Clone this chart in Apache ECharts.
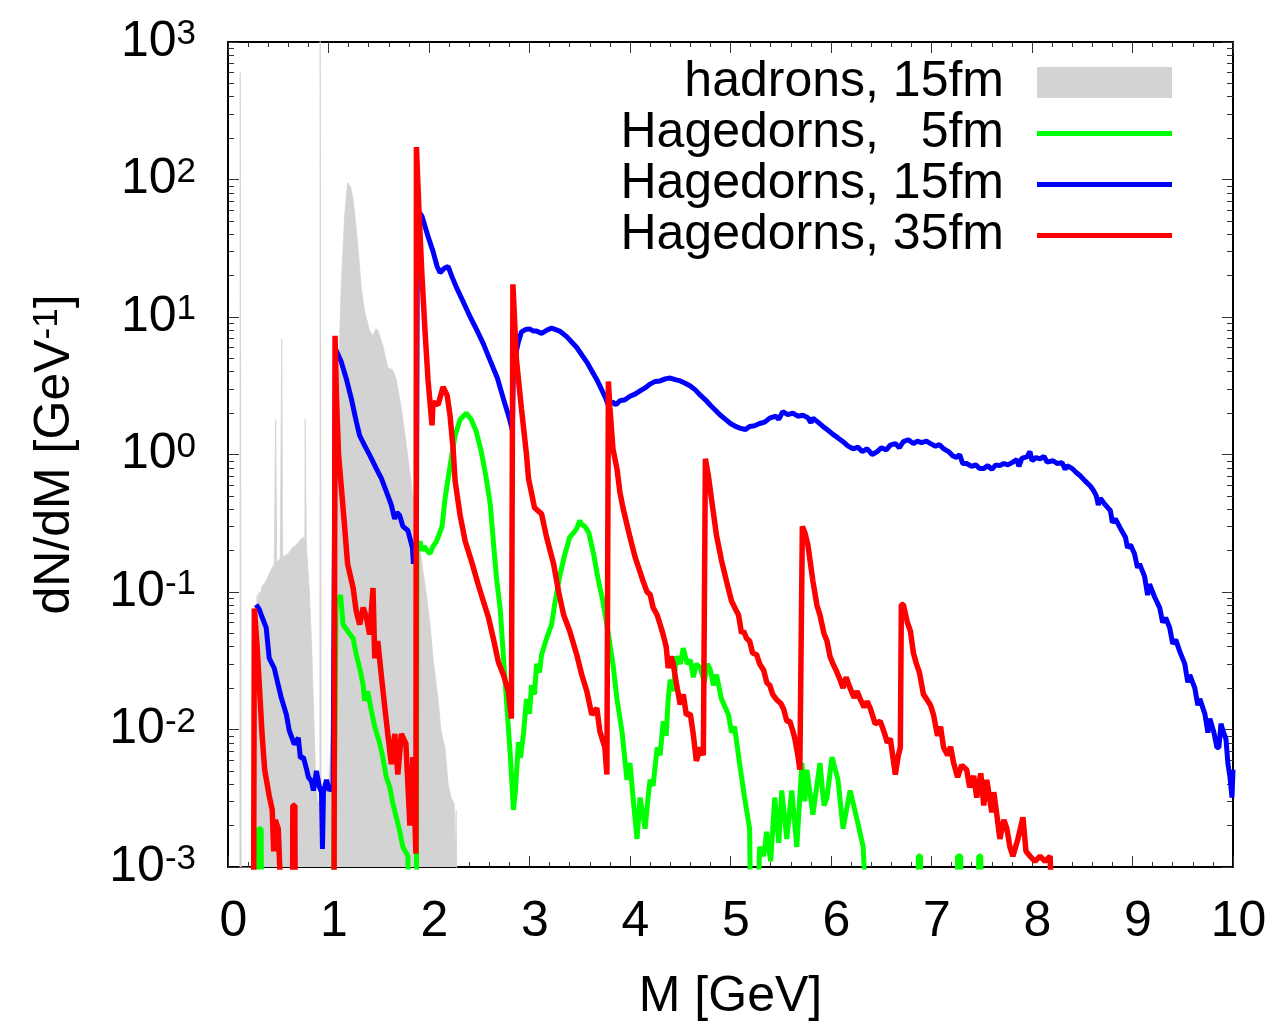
<!DOCTYPE html>
<html>
<head>
<meta charset="utf-8">
<script src="https://cdn.jsdelivr.net/npm/echarts@6/dist/echarts.min.js"></script>
<style>
html,body{margin:0;padding:0;background:#fff;}
#chart{width:1273px;height:1027px;}
</style>
</head>
<body>
<div id="chart"></div>
<script>
// ---- data: [M (GeV), dN/dM (1/GeV)] ----
const seriesNames = ['hadrons, 15fm', 'Hagedorns,   5fm', 'Hagedorns, 15fm', 'Hagedorns, 35fm'];
const xTicks = [0,1,2,3,4,5,6,7,8,9,10];
const yDecades = [-3,-2,-1,0,1,2,3];
const FLOOR = 0.0005; // below the axis minimum: drawn off-scale (clipped)

const hadrons = [
 [0.118,FLOOR],[0.122,600],[0.128,600],[0.132,FLOOR],
 [0.276,FLOOR],[0.282,0.07],[0.29,0.095],[0.30,0.085],[0.31,0.1],[0.32,0.095],[0.34,0.11],[0.36,0.115],[0.38,0.12],[0.40,0.13],
 [0.42,0.14],[0.44,0.15],[0.46,0.16],[0.472,0.165],
 [0.475,1.8],[0.481,1.8],[0.485,0.165],[0.50,0.17],[0.52,0.175],[0.533,0.18],[0.535,6.9],[0.541,6.9],[0.544,0.18],
 [0.56,0.18],[0.60,0.19],[0.64,0.21],[0.68,0.22],[0.72,0.24],[0.75,0.25],[0.765,0.24],[0.768,1.8],[0.775,1.8],[0.779,0.22],
 [0.79,0.17],[0.81,0.1],[0.83,0.045],[0.85,0.015],[0.87,0.005],[0.89,0.003],[0.914,0.003],[0.917,2000],[0.924,2000],[0.927,0.003],
 [0.96,0.003],[1.0,0.004],[1.04,0.012],[1.07,0.3],[1.095,3.0],[1.128,18],[1.16,54],[1.19,95],[1.20,97],[1.22,88],[1.245,72],[1.27,48],[1.295,31],
 [1.327,16],[1.36,10.9],[1.41,7.9],[1.443,7.3],[1.47,8.2],[1.49,8.0],[1.54,6.2],[1.59,4.3],[1.64,4.1],[1.675,3.5],
 [1.725,2.15],[1.775,1.17],[1.825,0.6],[1.86,0.39],[1.92,0.18],[1.97,0.1],[2.01,0.058],[2.04,0.033],[2.09,0.0167],
 [2.12,0.0097],[2.16,0.0073],[2.19,0.004],[2.22,0.0032],[2.25,0.0029],[2.26,0.0012],[2.27,0.0026],[2.28,FLOOR]
];

const green5 = [
 [0.30,FLOOR],[0.303,0.0019],[0.33,0.0019],[0.333,FLOOR],[1.05,FLOOR],
 [1.066,FLOOR],[1.075,0.09],[1.10,0.085],[1.12,0.095],[1.145,0.058],[1.19,0.052],[1.245,0.046],[1.276,0.035],[1.31,0.028],
 [1.345,0.021],[1.36,0.0162],[1.39,0.019],[1.425,0.0138],[1.46,0.0105],[1.51,0.0079],[1.54,0.0063],[1.575,0.0045],
 [1.61,0.0038],[1.64,0.0029],[1.675,0.0023],[1.71,0.0018],[1.74,0.0014],[1.79,0.0012],[1.80,FLOOR],
 [1.875,FLOOR],[1.88,0.2],[1.91,0.234],[1.93,0.2],[1.95,0.215],[1.98,0.2],[2.01,0.19],[2.04,0.215],[2.07,0.23],[2.09,0.25],[2.13,0.3],[2.16,0.48],
 [2.21,0.83],[2.26,1.38],[2.31,1.8],[2.37,2.0],[2.42,1.8],[2.47,1.47],[2.52,1.05],[2.57,0.67],[2.61,0.43],[2.64,0.234],
 [2.67,0.13],[2.71,0.073],[2.74,0.034],[2.77,0.0167],[2.81,0.0063],[2.84,0.0026],[2.86,0.0036],[2.89,0.0081],[2.91,0.0062],
 [2.94,0.0093],[2.97,0.0167],[3.0,0.013],[3.02,0.021],[3.05,0.018],[3.07,0.030],[3.10,0.026],[3.12,0.035],[3.17,0.046],[3.22,0.058],
 [3.25,0.081],[3.30,0.13],[3.35,0.186],[3.40,0.25],[3.44,0.27],[3.47,0.29],[3.50,0.33],[3.52,0.31],[3.55,0.3],[3.59,0.27],[3.64,0.186],
 [3.68,0.127],[3.73,0.086],[3.78,0.052],[3.83,0.03],[3.87,0.0167],[3.92,0.0097],[3.97,0.0043],[4.0,0.0057],
 [4.03,0.0032],[4.07,0.0016],[4.10,0.0032],[4.15,0.0019],[4.18,0.0032],[4.2,0.0043],[4.23,0.0039],[4.27,0.0074],
 [4.30,0.0065],[4.33,0.0115],[4.36,0.009],[4.38,0.0167],[4.40,0.023],[4.43,0.019],[4.46,0.034],[4.50,0.03],[4.53,0.039],[4.57,0.03],[4.60,0.032],
 [4.63,0.024],[4.66,0.03],[4.70,0.028],[4.74,0.022],[4.77,0.03],[4.80,0.027],[4.83,0.021],[4.86,0.025],[4.91,0.0167],[4.98,0.0128],
 [5.01,0.0095],[5.04,0.0105],[5.09,0.0057],[5.14,0.0032],[5.19,0.0019],[5.2,FLOOR],
 [5.27,FLOOR],[5.29,0.0014],[5.33,0.0012],[5.36,0.0018],[5.40,0.0011],[5.44,0.0032],[5.48,0.0015],[5.51,0.0036],[5.56,0.0016],
 [5.61,0.0036],[5.66,0.0014],[5.71,0.0057],[5.74,0.003],[5.76,0.0051],[5.82,0.0024],[5.89,0.0057],[5.93,0.0028],[5.96,0.0032],
 [6.01,0.0063],[6.07,0.0043],[6.12,0.0019],[6.19,0.0036],[6.26,0.0022],[6.32,0.0014],[6.35,FLOOR],
 [6.86,FLOOR],[6.87,0.0012],[6.89,0.0012],[6.9,FLOOR],[7.25,FLOOR],[7.26,0.0012],[7.29,0.0012],[7.3,FLOOR],
 [7.46,FLOOR],[7.47,0.0012],[7.49,0.0012],[7.5,FLOOR]
];

const blue15 = [
 [0.28,0.081],[0.31,0.075],[0.33,0.0685],[0.36,0.06],[0.38,0.055],[0.41,0.033],[0.46,0.028],[0.50,0.021],[0.53,0.017],
 [0.58,0.0129],[0.61,0.0098],[0.66,0.0078],[0.70,0.0087],[0.72,0.0062],[0.75,0.0063],[0.78,0.0052],[0.80,0.0045],
 [0.83,0.0042],[0.85,0.0036],[0.88,0.005],[0.91,0.0038],[0.93,0.0035],[0.94,0.00135],[0.95,0.0035],[0.98,0.0043],
 [1.01,0.0036],[1.045,0.0038],
 [1.07,5.86],[1.128,4.7],[1.177,3.56],[1.227,2.55],[1.277,1.73],[1.31,1.37],[1.36,1.16],[1.41,0.99],
 [1.476,0.79],[1.526,0.67],[1.575,0.54],[1.625,0.43],[1.658,0.34],[1.68,0.38],[1.708,0.36],[1.74,0.30],[1.79,0.28],
 [1.835,0.21],[1.845,0.16],[1.86,0.23],[1.875,0.2],
 [1.885,60],[1.93,54],[1.99,38.6],[2.04,30],[2.08,23.4],[2.11,21],[2.15,22.5],[2.19,23.3],[2.23,19.5],[2.28,16],
 [2.34,12.9],[2.41,10],[2.47,8.2],[2.54,6.4],[2.61,4.8],[2.68,3.6],[2.74,2.55],[2.80,1.82],[2.83,1.5],
 [2.84,4.5],[2.89,6.6],[2.92,7.8],[2.96,8.1],[3.0,8.2],[3.04,7.9],[3.07,7.9],[3.12,7.6],[3.17,8.0],[3.22,8.3],[3.30,7.9],
 [3.37,7.2],[3.47,6.0],[3.57,4.7],[3.67,3.5],[3.75,2.65],[3.78,2.33],[3.83,2.4],[3.86,2.3],[3.90,2.46],[3.95,2.5],[4.0,2.65],
 [4.05,2.75],[4.10,2.9],[4.15,3.05],[4.20,3.25],[4.25,3.4],[4.30,3.43],[4.35,3.55],[4.40,3.6],[4.45,3.5],[4.50,3.43],[4.55,3.3],
 [4.60,3.15],[4.65,2.95],[4.70,2.7],[4.75,2.5],[4.80,2.28],[4.85,2.1],[4.90,1.93],[4.95,1.8],[5.0,1.68],[5.05,1.6],
 [5.10,1.55],[5.15,1.52],[5.19,1.6],[5.24,1.62],[5.29,1.68],[5.34,1.72],[5.39,1.84],[5.45,1.9],[5.48,1.8],[5.52,2.05],
 [5.57,1.95],[5.62,2.0],[5.67,1.9],[5.72,1.93],[5.77,1.85],[5.80,1.7],[5.82,1.84],[5.87,1.72],[5.92,1.6],[5.97,1.5],
 [6.02,1.4],[6.07,1.32],[6.12,1.24],[6.17,1.15],[6.22,1.1],[6.27,1.13],[6.31,1.05],[6.36,1.1],[6.41,1.0],[6.46,1.05],
 [6.50,1.12],[6.55,1.08],[6.59,1.17],[6.64,1.2],[6.68,1.12],[6.72,1.24],[6.77,1.28],[6.82,1.2],[6.86,1.25],[6.90,1.22],
 [6.95,1.25],[6.99,1.2],[7.04,1.15],[7.08,1.18],[7.12,1.1],[7.17,1.05],[7.21,0.98],[7.25,0.95],[7.28,1.0],[7.31,0.86],
 [7.35,0.86],[7.40,0.82],[7.44,0.84],[7.48,0.79],[7.52,0.79],[7.56,0.83],[7.60,0.78],[7.64,0.84],[7.68,0.83],[7.72,0.86],
 [7.76,0.84],[7.81,0.88],[7.85,0.92],[7.87,0.82],[7.90,0.94],[7.95,0.96],[7.98,1.05],[8.0,0.9],[8.04,0.95],[8.08,0.93],
 [8.12,0.97],[8.15,0.88],[8.21,0.9],[8.25,0.86],[8.30,0.87],[8.33,0.78],[8.35,0.83],[8.40,0.79],[8.44,0.74],[8.48,0.7],
 [8.53,0.64],[8.58,0.59],[8.61,0.55],[8.64,0.5],[8.66,0.43],[8.68,0.48],[8.73,0.43],[8.78,0.39],[8.80,0.32],[8.83,0.34],
 [8.88,0.29],[8.93,0.25],[8.95,0.21],[8.98,0.22],[9.02,0.19],[9.05,0.15],[9.07,0.16],[9.12,0.13],[9.15,0.095],[9.17,0.114],
 [9.22,0.092],[9.27,0.077],[9.30,0.06],[9.33,0.065],[9.37,0.055],[9.40,0.042],[9.43,0.045],[9.47,0.037],[9.52,0.03],
 [9.55,0.022],[9.57,0.025],[9.62,0.02],[9.65,0.015],[9.67,0.0167],[9.72,0.013],[9.75,0.0095],[9.77,0.012],[9.81,0.0095],
 [9.84,0.0074],[9.86,0.0074],[9.88,0.011],[9.90,0.0098],[9.93,0.0085],[9.95,0.0056],[9.97,0.0045],[9.99,0.0032],[10.0,0.0051]
];

const red35 = [
 [0.255,FLOOR],[0.262,0.076],[0.29,0.04],[0.315,0.019],[0.34,0.009],[0.365,0.0051],[0.39,0.004],[0.41,0.0033],
 [0.44,0.0026],[0.455,0.0013],[0.47,0.0022],[0.50,0.0019],[0.52,0.0008],[0.6,FLOOR],[0.642,FLOOR],[0.645,0.0028],[0.665,0.0028],[0.668,FLOOR],
 [1.055,FLOOR],[1.065,7.3],[1.08,2.5],[1.10,1.0],[1.13,0.55],[1.16,0.3],[1.19,0.16],[1.245,0.107],[1.275,0.073],[1.31,0.058],
 [1.345,0.077],[1.376,0.066],[1.41,0.049],[1.443,0.107],[1.46,0.033],[1.49,0.044],[1.525,0.025],[1.56,0.0145],
 [1.59,0.0093],[1.625,0.0056],[1.66,0.0093],[1.69,0.0047],[1.725,0.0093],[1.77,0.0079],[1.81,0.002],[1.84,0.0063],[1.87,0.00125],
 [1.875,172],[1.90,60],[1.93,20],[1.96,8],[1.99,3.5],[2.03,1.63],[2.04,2.4],[2.09,2.3],[2.14,3.1],[2.18,2.7],[2.21,1.9],
 [2.24,1.1],[2.26,0.64],[2.31,0.36],[2.36,0.234],[2.42,0.17],[2.49,0.113],[2.54,0.086],[2.59,0.066],[2.64,0.046],
 [2.69,0.031],[2.74,0.025],[2.79,0.019],[2.82,0.012],
 [2.835,17.3],[2.87,4.9],[2.92,2.15],[2.97,1.0],[2.99,0.67],[3.05,0.41],[3.12,0.37],[3.17,0.25],[3.24,0.16],[3.29,0.1],
 [3.34,0.068],[3.40,0.052],[3.47,0.035],[3.52,0.025],[3.57,0.019],[3.62,0.0128],[3.67,0.0143],[3.70,0.0097],[3.75,0.0074],[3.77,0.0047],
 [3.785,3.4],[3.80,2.2],[3.83,1.1],[3.87,0.79],[3.90,0.53],[3.93,0.41],[4.0,0.25],[4.05,0.18],[4.10,0.14],[4.13,0.12],[4.17,0.1],
 [4.20,0.096],[4.23,0.077],[4.27,0.068],[4.30,0.058],[4.33,0.049],[4.36,0.04],[4.38,0.028],[4.41,0.034],[4.43,0.03],[4.46,0.022],[4.50,0.0152],
 [4.53,0.018],[4.56,0.0128],[4.60,0.013],[4.63,0.0092],[4.66,0.0059],[4.70,0.0074],[4.73,0.0065],
 [4.75,0.93],[4.78,0.7],[4.81,0.48],[4.86,0.26],[4.91,0.17],[4.96,0.12],[5.01,0.086],[5.05,0.075],[5.08,0.068],[5.11,0.05],[5.13,0.052],[5.16,0.046],
 [5.19,0.044],[5.22,0.036],[5.26,0.035],[5.29,0.03],[5.33,0.027],[5.36,0.022],[5.39,0.021],[5.42,0.018],[5.46,0.0164],[5.50,0.0155],[5.53,0.014],
 [5.56,0.0115],[5.59,0.0115],[5.62,0.0098],[5.64,0.0086],[5.67,0.0065],[5.69,0.0051],
 [5.715,0.3],[5.74,0.27],[5.77,0.22],[5.82,0.12],[5.86,0.08],[5.89,0.068],[5.93,0.05],[5.96,0.044],[5.99,0.034],[6.02,0.03],[6.06,0.026],[6.09,0.023],
 [6.12,0.02],[6.15,0.024],[6.19,0.02],[6.23,0.017],[6.26,0.019],[6.29,0.0167],[6.33,0.0145],[6.36,0.016],[6.39,0.0143],[6.44,0.011],[6.49,0.0115],
 [6.53,0.0095],[6.56,0.008],[6.59,0.0086],[6.62,0.006],[6.64,0.0047],[6.67,0.0065],[6.69,0.0074],
 [6.70,0.081],[6.72,0.081],[6.76,0.06],[6.79,0.052],[6.82,0.036],[6.85,0.03],[6.88,0.026],[6.92,0.018],[6.95,0.0167],[6.99,0.015],[7.02,0.0128],
 [7.06,0.009],[7.09,0.0105],[7.12,0.0074],[7.16,0.0065],[7.19,0.0075],[7.22,0.0057],[7.26,0.0045],[7.30,0.0055],[7.35,0.0051],[7.38,0.0038],[7.42,0.0046],[7.45,0.0032],
 [7.49,0.0048],[7.52,0.0028],[7.55,0.0043],[7.60,0.0025],[7.62,0.0035],[7.65,0.0024],[7.68,0.0016],[7.72,0.0022],[7.75,0.0019],[7.78,0.0014],[7.81,0.0012],
 [7.86,0.0016],[7.91,0.0023],[7.94,0.0013],[7.98,0.0012],[8.03,0.0011],[8.08,0.0012],[8.13,0.0011],[8.18,0.0012],[8.2,FLOOR]
];

// ---- chart ----
const FONT = '"Liberation Sans", Arial, Helvetica, sans-serif';
const minorLogTicks = [];
for (let d = -3; d < 3; d++) for (let k = 2; k <= 9; k++) minorLogTicks.push(d + Math.log10(k));

const chart = echarts.init(document.getElementById('chart'), null, {renderer: 'canvas'});
const axisLineStyle = {show: true, onZero: false, lineStyle: {color: '#000', width: 2}};
const tickStyle = {color: '#333', width: 1};

function xAxisDef(pos, showLabel) {
  return {
    type: 'value', position: pos, min: 0, max: 10, interval: 1,
    axisLine: axisLineStyle,
    axisTick: {show: true, inside: true, length: 11, lineStyle: tickStyle},
    minorTick: {show: true, splitNumber: 5, length: 5, lineStyle: tickStyle},
    splitLine: {show: false}, minorSplitLine: {show: false},
    axisLabel: {show: showLabel, fontSize: 50, fontFamily: FONT, color: '#000', margin: 30, padding: [0, 0, 0, 11]},
    name: showLabel ? 'M [GeV]' : '', nameLocation: 'middle', nameGap: 105,
    nameTextStyle: {fontSize: 50, fontFamily: FONT, color: '#000'}
  };
}
function yMajorDef(pos, showLabel) {
  return {
    type: 'value', position: pos, min: -3, max: 3, interval: 1,
    axisLine: axisLineStyle,
    axisTick: {show: true, inside: true, length: 11, lineStyle: tickStyle},
    splitLine: {show: false},
    axisLabel: {
      show: showLabel, margin: 32, fontFamily: FONT, color: '#000',
      formatter: v => '{b|10}{s|' + v + '}',
      rich: {b: {fontSize: 50, fontFamily: FONT, color: '#000', lineHeight: 50},
             s: {fontSize: 35, fontFamily: FONT, color: '#000', verticalAlign: 'top', lineHeight: 35}}
    },
    name: showLabel ? '{m|dN/dM [GeV}{s|-1}{m|]}' : '', nameLocation: 'middle', nameGap: 148, nameRotate: 90,
    nameTextStyle: {fontFamily: FONT, color: '#000', rich: {
      m: {fontSize: 50, fontFamily: FONT, color: '#000', lineHeight: 50},
      s: {fontSize: 35, fontFamily: FONT, color: '#000', verticalAlign: 'top', lineHeight: 35}}}
  };
}
function yMinorDef(pos) {
  return {
    type: 'value', position: pos, min: -3, max: 3,
    axisLine: {show: false, onZero: false},
    axisTick: {show: true, inside: true, length: 6, lineStyle: tickStyle, customValues: minorLogTicks},
    axisLabel: {show: false}, splitLine: {show: false}
  };
}

const lineSeries = (name, data, color, w) => ({
  name, type: 'line', data, xAxisIndex: 0, yAxisIndex: 0, symbol: 'none', showSymbol: false,
  clip: true, sampling: null, animation: false,
  lineStyle: {color, width: w, join: 'bevel', cap: 'butt'}, itemStyle: {color}
});
const legendText = {fontSize: 50, fontFamily: FONT, color: '#000', lineHeight: 51, padding: [0, 28, 0, 0]};

chart.setOption({
  backgroundColor: '#fff',
  animation: false,
  grid: {left: 228, top: 42, right: 40, bottom: 157, containLabel: false},
  xAxis: [xAxisDef('bottom', true), xAxisDef('top', false)],
  yAxis: [
    {type: 'log', logBase: 10, min: 0.001, max: 1000, position: 'left', show: false},
    yMajorDef('left', true), yMinorDef('left'), yMajorDef('right', false), yMinorDef('right')
  ],
  legend: [
    {
      orient: 'vertical', right: 101, top: 57, align: 'right', padding: 0, itemGap: 0,
      itemWidth: 135, itemHeight: 31, selectedMode: false, textStyle: legendText,
      data: [{name: seriesNames[0], icon: 'rect'}]
    },
    {
      orient: 'vertical', right: 101, top: 108, align: 'right', padding: 0, itemGap: 0,
      itemWidth: 135, itemHeight: 5, selectedMode: false, textStyle: legendText,
      data: [
        {name: seriesNames[1], icon: 'rect'},
        {name: seriesNames[2], icon: 'rect'},
        {name: seriesNames[3], icon: 'rect'}
      ]
    }
  ],
  series: [
    {name: seriesNames[0], type: 'line', data: hadrons, symbol: 'none', showSymbol: false, clip: true,
     sampling: null, animation: false,
     lineStyle: {width: 0.8, color: '#d3d3d3'}, itemStyle: {color: '#d3d3d3'},
     areaStyle: {color: '#d3d3d3', opacity: 1, origin: 'start'}},
    lineSeries(seriesNames[1], green5, '#00ff00', 5),
    lineSeries(seriesNames[2], blue15, '#0000ff', 5),
    lineSeries(seriesNames[3], red35, '#ff0000', 5.5)
  ]
});
</script>
</body>
</html>
